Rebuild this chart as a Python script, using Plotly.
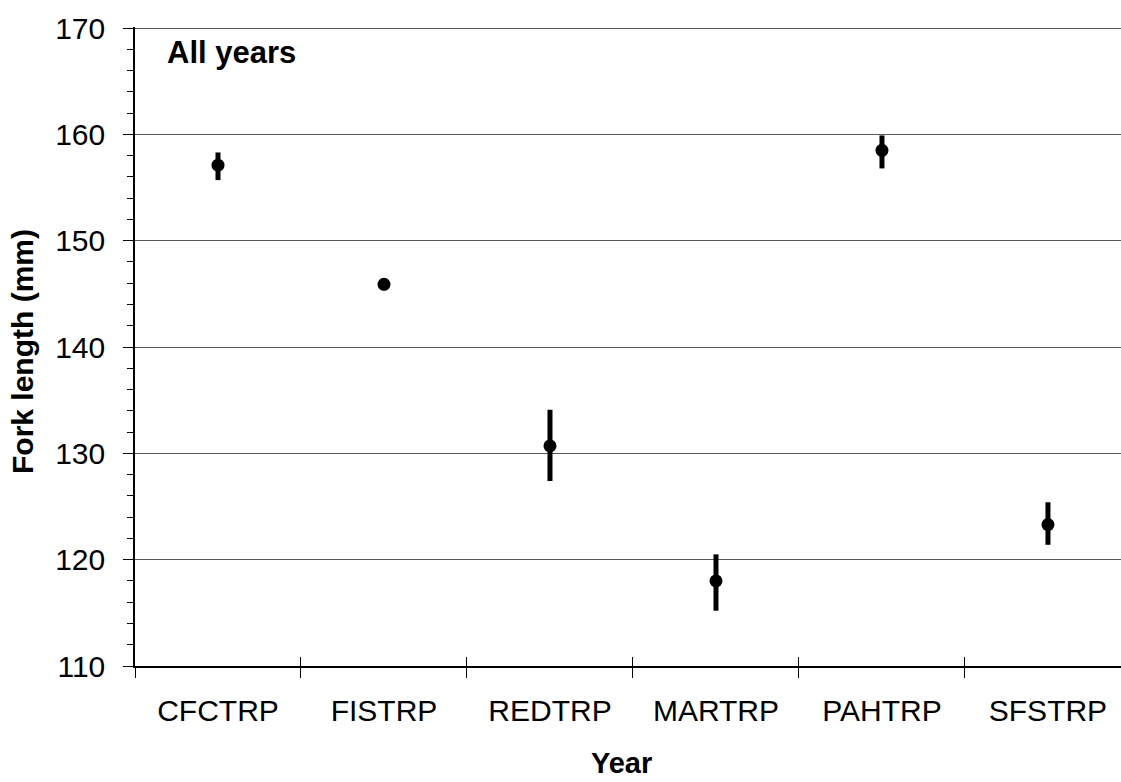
import plotly.graph_objects as go

categories = ["CFCTRP", "FISTRP", "REDTRP", "MARTRP", "PAHTRP", "SFSTRP"]
means = [157.1, 145.9, 130.7, 118.0, 158.5, 123.3]
err_plus = [1.2, 0.0, 3.4, 2.5, 1.4, 2.1]
err_minus = [1.4, 0.0, 3.3, 2.8, 1.7, 1.9]
y_ticks = [110, 120, 130, 140, 150, 160, 170]

xpos = list(range(len(categories)))
bounds = [i - 0.5 for i in range(len(categories) + 1)]

FONT = "Liberation Sans, Arial, sans-serif"

fig = go.Figure()
fig.add_trace(go.Scatter(
    x=xpos, y=means, mode="markers",
    marker=dict(color="black", size=13),
    error_y=dict(type="data", symmetric=False, array=err_plus, arrayminus=err_minus,
                 color="black", thickness=5, width=0),
    showlegend=False, hoverinfo="skip",
))
fig.add_trace(go.Scatter(x=[None], y=[None], xaxis="x2", showlegend=False, hoverinfo="skip"))

fig.update_layout(
    width=1121, height=782,
    margin=dict(l=135, r=0, t=27, b=116),
    paper_bgcolor="white", plot_bgcolor="white",
    font=dict(family=FONT, color="black", size=30),
    xaxis=dict(
        range=[-0.5, 5.44], tickmode="array", tickvals=xpos, ticktext=categories,
        ticks="", showgrid=False, zeroline=False,
        showline=True, linecolor="black", linewidth=1.5,
        tickfont=dict(size=30), ticklabelstandoff=17,
        minor=dict(tickmode="array", tickvals=bounds, ticks="outside", ticklen=10,
                   tickcolor="black", tickwidth=1.2, showgrid=False),
    ),
    xaxis2=dict(
        overlaying="x", anchor="y", side="bottom", matches="x",
        range=[-0.5, 5.44], tickmode="array", tickvals=bounds, ticks="inside",
        ticklen=9, tickcolor="black", tickwidth=1.2, showticklabels=False,
        showgrid=False, zeroline=False, showline=False,
    ),
    yaxis=dict(
        range=[110, 170.1], tickmode="array", tickvals=y_ticks,
        ticks="outside", ticklen=10, tickcolor="black", tickwidth=1.2,
        showgrid=True, gridcolor="#5a5a5a", gridwidth=1.2, zeroline=False,
        showline=True, linecolor="black", linewidth=1.5,
        tickfont=dict(size=30), ticklabelstandoff=12,
        minor=dict(dtick=2, tick0=110, ticks="outside", ticklen=6,
                   tickcolor="black", tickwidth=1.2, showgrid=False),
    ),
    annotations=[
        dict(text="<b>All years</b>", xref="paper", yref="paper",
             x=(165 - 135) / 986, y=(666 - 52) / 639, xanchor="left", yanchor="middle",
             showarrow=False, font=dict(size=31, family=FONT)),
        dict(text="<b>Fork length (mm)</b>", xref="paper", yref="paper",
             x=(22 - 135) / 986, y=(666 - 352) / 639, xanchor="center", yanchor="middle",
             textangle=-90, showarrow=False, font=dict(size=30, family=FONT)),
        dict(text="<b>Year</b>", xref="paper", yref="paper",
             x=(621 - 135) / 986, y=(666 - 781) / 639, xanchor="center", yanchor="bottom",
             showarrow=False, font=dict(size=29, family=FONT)),
    ],
)

fig.write_html("out.html")
